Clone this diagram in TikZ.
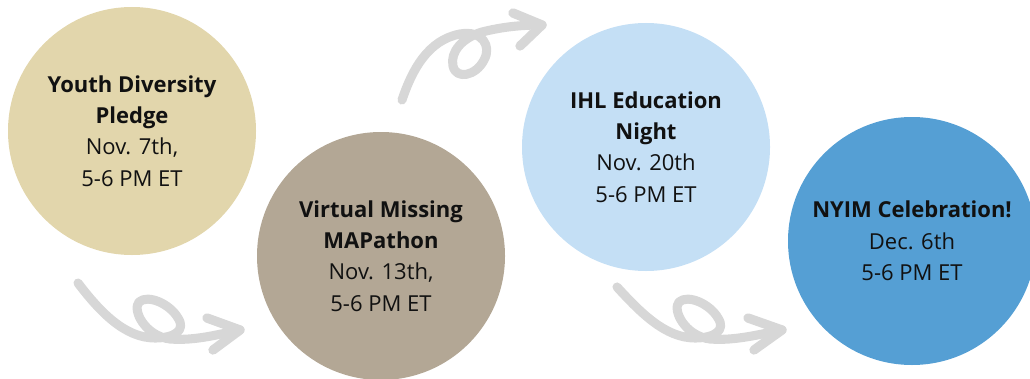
\documentclass[tikz,border=0pt]{standalone}
\usepackage{fontspec}
\setmainfont{Open Sans}
\definecolor{cA}{HTML}{E2D6AC}
\definecolor{cB}{HTML}{B3A795}
\definecolor{cC}{HTML}{C4DFF5}
\definecolor{cD}{HTML}{559FD4}
\definecolor{arr}{HTML}{D7D7D7}
\definecolor{txt}{HTML}{111111}
\tikzset{
  event/.style={circle, inner sep=0pt, minimum size=186pt, align=center, text=txt,
    font=\fontsize{16.5}{23.5}\selectfont},
  swirl/.style={draw=arr, line width=6.8pt, line cap=round, line join=round},
  head/.style={draw=arr, line width=7pt, line cap=round, line join=round}
}
\begin{document}
\begin{tikzpicture}[x=0.75pt,y=-0.75pt]
\useasboundingbox (0,0) rectangle (1030,378);
\clip (0,0) rectangle (1030,378);
% circles
\node[event, fill=cA] (n1) at (132,131) {\textbf{Youth Diversity}\\\textbf{Pledge}\\Nov. 7th,\\5-6 PM ET};
\node[event, fill=cB] (n2) at (381,256) {\textbf{Virtual Missing}\\\textbf{MAPathon}\\Nov. 13th,\\5-6 PM ET};
\node[event, fill=cC] (n3) at (646,147) {\textbf{IHL Education}\\\textbf{Night}\\Nov. 20th\\5-6 PM ET};
\node[event, fill=cD] (n4) at (912,241) {\textbf{NYIM Celebration!}\\Dec. 6th\\5-6 PM ET};
% arrow 1 (n1 -> n2)
\coordinate (a1s) at (78,283);
\coordinate (a1t) at (240,330);
\draw[swirl] (a1s) .. controls (100,312) and (125,338) .. (155,338)
  .. controls (175,338) and (186,330) .. (178,318)
  .. controls (170,304) and (148,294) .. (139,302)
  .. controls (132,310) and (145,336) .. (170,339)
  .. controls (195,341) and (220,334) .. (a1t);
\draw[head] (207,318) -- (a1t) -- (213,350);
% arrow 2 (n2 -> n3)
\coordinate (a2s) at (402,100);
\coordinate (a2t) at (542,25);
\draw[swirl] (a2s) .. controls (412,70) and (428,40) .. (460,34)
  .. controls (482,30) and (492,46) .. (484,60)
  .. controls (476,76) and (456,80) .. (453,66)
  .. controls (450,52) and (462,38) .. (482,32)
  .. controls (502,27) and (520,25) .. (a2t);
\draw[head] (513,13) -- (a2t) -- (520,46);
% arrow 3 (n3 -> n4)
\coordinate (a3s) at (617,287);
\coordinate (a3t) at (782,330);
\draw[swirl] (a3s) .. controls (640,312) and (665,338) .. (695,338)
  .. controls (715,338) and (726,330) .. (718,318)
  .. controls (710,304) and (688,294) .. (679,302)
  .. controls (672,310) and (685,336) .. (710,339)
  .. controls (735,341) and (761,334) .. (a3t);
\draw[head] (748,318) -- (a3t) -- (754,350);
\end{tikzpicture}
\end{document}
